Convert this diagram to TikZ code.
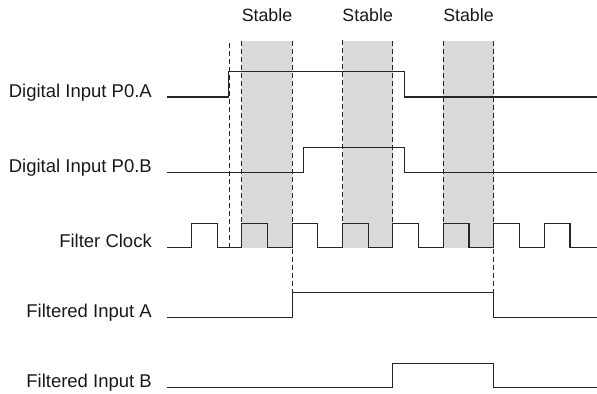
\documentclass[tikz,border=0pt]{standalone}
\usepackage{fontspec}
\setmainfont{Liberation Sans}
\begin{document}
\begin{tikzpicture}[x=1bp,y=-1bp,
  sig/.style={line width=1.3bp, draw=black!85, line join=miter},
  guide/.style={line width=0.9bp, draw=black!85, dash pattern=on 5bp off 3bp},
  stablebox/.style={fill=black!15, draw=none},
  lbl/.style={font=\fontsize{18.5bp}{20bp}\selectfont, anchor=base east, inner sep=0pt, text=black!90},
  stab/.style={font=\fontsize{17.8bp}{20bp}\selectfont, anchor=base, inner sep=0pt, text=black!90}]
\useasboundingbox (0,0) rectangle (597,393);
% stable windows
\fill[stablebox] (241.7,41) rectangle (292.3,248);
\fill[stablebox] (342.7,41) rectangle (392.7,248);
\fill[stablebox] (443.3,41) rectangle (493.7,248);
\node[stab] (s1) at (267,21.7) {Stable};
\node[stab] (s2) at (367.7,21.7) {Stable};
\node[stab] (s3) at (468.5,21.7) {Stable};
% guides
\draw[guide] (229.5,43) -- (229.5,247.7);
\draw[guide] (241.7,41) -- (241.7,248);
\draw[guide] (292.3,41) -- (292.3,292.7);
\draw[guide] (342.7,40) -- (342.7,248);
\draw[guide] (392.7,41) -- (392.7,248);
\draw[guide] (443.3,41) -- (443.3,248);
\draw[guide] (493.7,41) -- (493.7,292.7);
% labels
\node[lbl] (la) at (152,97.3) {Digital Input P0.A};
\node[lbl] (lb) at (152,172.7) {Digital Input P0.B};
\node[lbl] (lc) at (152,247.9) {Filter Clock};
\node[lbl] (lfa) at (152,317.7) {Filtered Input A};
\node[lbl] (lfb) at (152,387.7) {Filtered Input B};
% signals
\draw[sig] (166.7,97) -| (228.5,71.7) -| (404.3,97) -- (597,97);
\draw[sig] (166.7,172.7) -| (303.3,147.3) -| (404.3,172.7) -- (597,172.7);
\draw[sig] (166.7,247.7) -| (191.7,223.3) -| (217.3,247.7) -| (241.7,223.3) -| (267.3,247.7)
  -| (292.3,223.3) -| (317.7,247.7) -| (342.7,223.3) -| (368.3,247.7)
  -| (392.7,223.3) -| (418.3,247.7) -| (443.3,223.3) -| (469,247.7)
  -| (493.7,223.3) -| (519.3,247.7) -| (544.3,223.3) -| (570,247.7) -- (597,247.7);
\draw[sig] (166.7,317.7) -| (292.3,292.7) -| (493.7,317.7) -- (597,317.7);
\draw[sig] (166.7,387.7) -| (392.7,363.3) -| (493.7,387.7) -- (597,387.7);
\end{tikzpicture}
\end{document}
